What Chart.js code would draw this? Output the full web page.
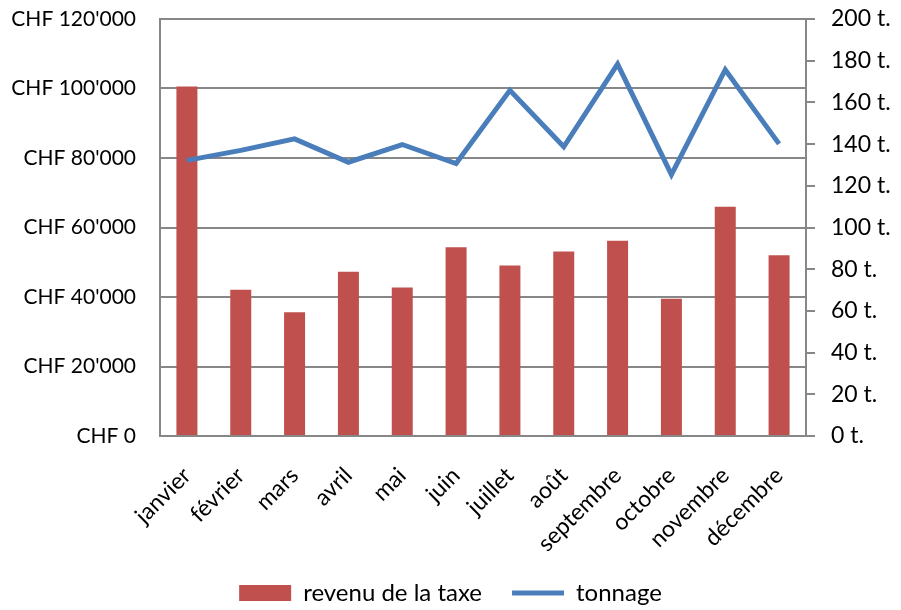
<!DOCTYPE html>
<html>
<head>
<meta charset="utf-8">
<script src="https://cdn.jsdelivr.net/npm/chart.js@4"></script>
<style>
  body { margin: 0; background: #fff; }
  #wrap { width: 901px; height: 610px; }
</style>
</head>
<body>
<div id="wrap"><canvas id="graphique" width="901" height="610"></canvas></div>
<script>
// mois
const mois = ['janvier', 'février', 'mars', 'avril', 'mai', 'juin', 'juillet', 'août', 'septembre', 'octobre', 'novembre', 'décembre'];
// revenu de la taxe (CHF)
const revenu = [100600, 42100, 35600, 47300, 42700, 54300, 49100, 53100, 56200, 39500, 66000, 52000];
// tonnage (t.)
const tonnage = [132.2, 137.0, 142.5, 131.3, 139.8, 130.7, 165.8, 138.7, 178.4, 125.4, 175.7, 140.1];

const gris = '#878787';
const famille = 'Lato, "Open Sans", sans-serif';

function chf(v) {
    // 120000 -> CHF 120'000
    const s = String(Math.round(v)).replace(/\B(?=(\d{3})+(?!\d))/g, "'");
    return 'CHF ' + s;
}

const ctx = document.getElementById('graphique').getContext('2d');
new Chart(ctx, {
    type: 'bar',
    data: {
        labels: mois,
        datasets: [{
            type: 'line',
            label: 'tonnage',
            data: tonnage,
            yAxisID: 'yT',
            borderColor: '#4A7EBB',
            backgroundColor: '#4A7EBB',
            borderWidth: 5,
            pointRadius: 0,
            pointStyle: 'line',
            tension: 0
        }, {
            type: 'bar',
            label: 'revenu de la taxe',
            data: revenu,
            yAxisID: 'yC',
            backgroundColor: '#C0504D',
            borderWidth: 0,
            pointStyle: 'rect',
            categoryPercentage: 1,
            barPercentage: 0.39
        }]
    },
    options: {
        responsive: false,
        animation: false,
        layout: { padding: { top: 19, left: 0, right: 0, bottom: -5 } },
        plugins: {
            tooltip: { enabled: false },
            legend: {
                position: 'bottom',
                reverse: true,
                labels: {
                    color: '#000',
                    font: { family: famille, size: 24 },
                    usePointStyle: true,
                    pointStyleWidth: 52,
                    boxHeight: 16,
                    padding: 30
                }
            }
        },
        scales: {
            x: {
                grid: { display: false, drawTicks: false },
                border: { color: gris, width: 2 },
                ticks: {
                    color: '#000',
                    font: { family: famille, size: 23 },
                    maxRotation: 45,
                    minRotation: 45,
                    padding: 26
                },
                afterFit: function(axis) { axis.height = 115; }
            },
            yC: {
                position: 'left',
                min: 0,
                max: 120000,
                grid: { color: gris, lineWidth: 2, drawTicks: false },
                border: { color: gris, width: 2 },
                ticks: {
                    stepSize: 20000,
                    color: '#000',
                    font: { family: famille, size: 21 },
                    padding: 24,
                    callback: v => chf(v)
                },
                afterFit: function(axis) {
                    axis.width = 160;
                    axis.paddingTop = 0;
                    axis.paddingBottom = 0;
                }
            },
            yT: {
                position: 'right',
                min: 0,
                max: 200,
                grid: { drawOnChartArea: false, color: gris, lineWidth: 2, tickLength: 9 },
                border: { color: gris, width: 2 },
                ticks: {
                    stepSize: 20,
                    color: '#000',
                    font: { family: famille, size: 23 },
                    padding: 16,
                    callback: v => v + ' t.'
                },
                afterFit: function(axis) {
                    axis.width = 95;
                    axis.paddingTop = 0;
                    axis.paddingBottom = 0;
                }
            }
        }
    }
});
</script>
</body>
</html>
